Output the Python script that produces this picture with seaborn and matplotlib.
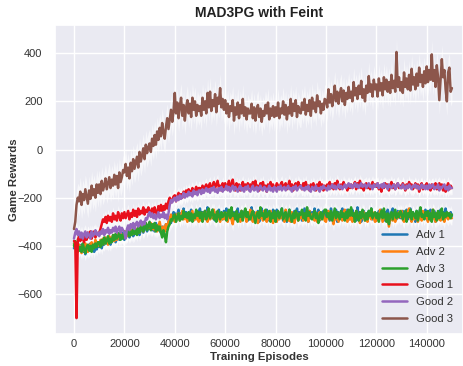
import numpy as np
import pandas as pd
import matplotlib
matplotlib.use("Agg")
import matplotlib.pyplot as plt
import seaborn as sns

step = 500  # episodes between logged rewards

adv1 = [
    -410, -390, -405, -385, -420, -400, -395, -425, -405, -435, -400, -415, -420, -390, -405, -395, -425, -400, -415, -395,
    -405, -380, -410, -385, -395, -375, -390, -365, -385, -395, -365, -380, -360, -385, -370, -350, -375, -360, -345, -370,
    -375, -350, -360, -340, -365, -345, -335, -360, -350, -330, -345, -325, -355, -335, -320, -345, -330, -315, -340, -320,
    -330, -310, -335, -315, -340, -305, -330, -320, -335, -345, -320, -350, -330, -310, -325, -300, -290, -305, -275, -260,
    -265, -295, -270, -250, -290, -265, -280, -245, -285, -260, -275, -295, -265, -250, -280, -270, -290, -255, -280, -260,
    -245, -285, -260, -275, -255, -290, -240, -275, -265, -285, -250, -280, -295, -260, -285, -250, -275, -265, -290, -255,
    -270, -245, -290, -265, -280, -250, -300, -260, -275, -285, -245, -290, -270, -255, -285, -260, -250, -280, -295, -265,
    -265, -240, -285, -260, -290, -275, -255, -300, -270, -245, -280, -265, -290, -250, -275, -295, -260, -285, -250, -270,
    -270, -250, -290, -265, -280, -245, -295, -270, -255, -300, -270, -250, -285, -265, -295, -255, -275, -245, -285, -260,
    -265, -295, -270, -245, -285, -265, -300, -255, -280, -260, -275, -245, -290, -265, -250, -295, -270, -285, -255, -275,
    -285, -255, -275, -295, -245, -280, -265, -290, -250, -300, -260, -285, -270, -245, -290, -260, -280, -250, -275, -290,
    -275, -250, -290, -265, -295, -240, -280, -260, -300, -270, -255, -285, -265, -295, -255, -275, -245, -290, -265, -280,
    -265, -290, -255, -280, -250, -275, -295, -260, -285, -250, -270, -295, -260, -245, -285, -270, -290, -255, -265, -285,
    -280, -255, -295, -265, -250, -290, -270, -245, -285, -260, -275, -300, -255, -280, -265, -245, -285, -260, -275, -250,
    -290, -260, -280, -250, -295, -270, -255, -300, -265, -285, -270, -250, -290, -260, -280, -245, -275, -265, -285, -260,
    -275,
]
adv2 = [
    -390, -410, -400, -425, -395, -415, -430, -400, -420, -390, -410, -425, -395, -415, -385, -410, -400, -375, -395, -385,
    -400, -375, -395, -370, -390, -365, -380, -395, -360, -385, -375, -355, -380, -360, -375, -350, -370, -345, -365, -355,
    -365, -340, -360, -345, -330, -355, -335, -350, -325, -345, -340, -320, -345, -330, -310, -340, -320, -305, -330, -315,
    -325, -305, -330, -310, -335, -315, -340, -320, -300, -330, -335, -320, -340, -310, -330, -300, -285, -270, -290, -280,
    -300, -270, -285, -265, -295, -275, -255, -290, -270, -285, -300, -265, -285, -270, -255, -295, -275, -290, -260, -300,
    -275, -295, -265, -290, -255, -280, -300, -270, -290, -260, -285, -250, -275, -295, -265, -285, -300, -270, -290, -265,
    -290, -265, -300, -275, -255, -290, -310, -275, -285, -260, -295, -270, -300, -255, -285, -275, -260, -300, -280, -270,
    -250, -285, -300, -270, -290, -260, -305, -275, -285, -265, -295, -255, -280, -300, -270, -290, -255, -285, -305, -275,
    -275, -300, -265, -290, -260, -285, -275, -300, -250, -280, -295, -270, -300, -260, -285, -305, -275, -265, -295, -280,
    -285, -260, -295, -275, -290, -265, -300, -255, -285, -270, -280, -295, -265, -300, -275, -260, -290, -280, -270, -295,
    -300, -275, -255, -290, -270, -285, -310, -275, -290, -265, -300, -280, -260, -295, -275, -250, -285, -300, -270, -290,
    -280, -300, -265, -285, -255, -275, -290, -305, -270, -285, -260, -295, -280, -300, -265, -275, -290, -260, -285, -300,
    -295, -270, -285, -250, -275, -300, -265, -290, -270, -285, -320, -285, -265, -295, -275, -300, -270, -285, -260, -280,
    -255, -290, -300, -270, -285, -260, -245, -285, -300, -265, -290, -275, -260, -300, -280, -270, -295, -255, -285, -275,
    -280, -300, -265, -290, -275, -250, -285, -300, -265, -290, -275, -295, -260, -285, -300, -270, -280, -290, -265, -285,
    -285,
]
adv3 = [
    -400, -380, -410, -395, -420, -405, -425, -390, -415, -430, -405, -395, -420, -400, -425, -395, -410, -390, -405, -385,
    -385, -405, -375, -395, -365, -390, -380, -360, -390, -370, -385, -355, -375, -350, -370, -360, -345, -375, -355, -370,
    -340, -365, -350, -335, -360, -340, -355, -330, -350, -335, -355, -320, -345, -330, -310, -340, -325, -305, -335, -315,
    -300, -335, -310, -325, -305, -340, -315, -335, -320, -345, -365, -335, -355, -385, -340, -320, -310, -290, -295, -275,
    -270, -300, -280, -265, -295, -275, -290, -255, -280, -265, -285, -260, -295, -265, -300, -270, -285, -250, -275, -260,
    -285, -260, -300, -270, -255, -290, -275, -245, -285, -265, -250, -290, -270, -300, -255, -275, -290, -260, -280, -270,
    -260, -295, -270, -250, -285, -240, -275, -265, -290, -255, -300, -270, -280, -255, -295, -265, -245, -280, -260, -290,
    -290, -265, -255, -280, -305, -270, -260, -285, -240, -275, -265, -290, -250, -280, -270, -255, -300, -265, -285, -255,
    -300, -270, -255, -285, -265, -245, -290, -270, -260, -295, -275, -250, -280, -300, -265, -285, -255, -270, -295, -265,
    -270, -250, -285, -265, -295, -240, -275, -260, -285, -290, -270, -255, -285, -265, -305, -280, -260, -290, -270, -250,
    -250, -280, -265, -290, -255, -295, -270, -245, -285, -260, -275, -290, -255, -280, -265, -295, -260, -285, -250, -275,
    -240, -275, -265, -300, -255, -280, -295, -260, -285, -250, -270, -295, -265, -290, -255, -275, -245, -285, -270, -260,
    -285, -265, -300, -270, -255, -285, -245, -280, -300, -265, -310, -275, -260, -290, -270, -250, -285, -265, -280, -255,
    -265, -290, -270, -255, -300, -265, -280, -250, -290, -260, -270, -285, -255, -295, -265, -240, -280, -270, -290, -260,
    -275, -255, -290, -265, -300, -250, -280, -265, -295, -255, -285, -270, -245, -290, -265, -280, -260, -275, -265, -285,
    -270,
]
good1 = [
    -380, -385, -700, -375, -360, -380, -355, -370, -385, -350, -375, -345, -365, -340, -370, -350, -340, -365, -345, -355,
    -345, -330, -310, -290, -300, -280, -305, -275, -295, -280, -300, -265, -290, -275, -295, -260, -280, -295, -265, -285,
    -260, -285, -270, -255, -290, -265, -280, -250, -275, -255, -280, -245, -270, -255, -265, -240, -270, -250, -260, -240,
    -255, -275, -245, -265, -240, -260, -270, -235, -255, -230, -255, -235, -250, -225, -245, -215, -200, -220, -210, -195,
    -190, -215, -195, -180, -205, -185, -200, -175, -195, -170, -190, -165, -185, -175, -160, -185, -170, -155, -180, -160,
    -160, -180, -150, -170, -155, -145, -170, -150, -140, -165, -155, -135, -160, -145, -130, -160, -150, -170, -140, -160,
    -140, -165, -150, -130, -160, -145, -125, -155, -170, -140, -160, -145, -170, -150, -135, -160, -145, -165, -140, -155,
    -145, -165, -135, -155, -130, -160, -150, -170, -140, -155, -135, -160, -150, -175, -145, -160, -135, -155, -145, -165,
    -160, -140, -150, -165, -145, -135, -160, -150, -140, -165, -150, -130, -160, -145, -170, -150, -140, -160, -135, -150,
    -150, -165, -140, -155, -135, -160, -150, -170, -145, -160, -140, -155, -170, -145, -160, -135, -155, -145, -170, -150,
    -165, -145, -155, -135, -160, -145, -165, -140, -155, -130, -150, -165, -145, -160, -135, -155, -150, -170, -145, -160,
    -145, -160, -150, -135, -165, -140, -155, -130, -160, -145, -170, -150, -140, -160, -145, -165, -150, -135, -155, -145,
    -155, -140, -165, -150, -175, -145, -160, -140, -155, -145, -170, -150, -135, -160, -145, -165, -150, -140, -160, -150,
    -160, -140, -150, -170, -145, -160, -135, -155, -145, -165, -155, -140, -160, -145, -175, -150, -140, -165, -150, -155,
    -140, -160, -150, -170, -145, -160, -155, -140, -165, -150, -140, -160, -145, -170, -150, -175, -155, -140, -165, -150,
    -160,
]
good2 = [
    -370, -345, -330, -355, -340, -365, -345, -370, -350, -340, -365, -345, -355, -370, -340, -360, -350, -335, -355, -345,
    -360, -340, -350, -330, -355, -335, -345, -325, -350, -335, -345, -325, -340, -320, -345, -330, -320, -345, -325, -335,
    -345, -370, -330, -315, -335, -310, -325, -305, -330, -310, -300, -320, -305, -295, -315, -300, -310, -285, -290, -270,
    -260, -280, -265, -285, -270, -290, -275, -260, -285, -270, -280, -260, -285, -270, -290, -265, -230, -210, -220, -205,
    -200, -215, -195, -210, -190, -205, -195, -180, -200, -185, -195, -175, -190, -180, -195, -170, -185, -175, -190, -170,
    -170, -185, -165, -180, -170, -160, -175, -165, -180, -160, -170, -155, -175, -165, -180, -160, -170, -155, -175, -165,
    -165, -150, -170, -155, -175, -160, -150, -170, -155, -165, -175, -160, -150, -170, -160, -175, -155, -165, -150, -170,
    -175, -160, -150, -170, -165, -155, -175, -160, -150, -165, -170, -155, -160, -175, -165, -150, -170, -160, -175, -155,
    -160, -175, -155, -165, -150, -170, -160, -155, -170, -160, -150, -165, -160, -175, -155, -165, -150, -170, -160, -155,
    -150, -165, -160, -170, -155, -165, -150, -170, -175, -155, -160, -170, -150, -165, -160, -175, -155, -165, -150, -160,
    -160, -170, -150, -165, -155, -145, -160, -150, -165, -155, -145, -160, -150, -165, -155, -145, -160, -150, -140, -155,
    -145, -160, -150, -140, -155, -145, -160, -150, -140, -155, -150, -145, -160, -150, -140, -155, -150, -165, -145, -155,
    -150, -140, -160, -150, -145, -160, -140, -155, -150, -165, -145, -155, -160, -150, -145, -165, -155, -140, -150, -160,
    -160, -145, -155, -165, -150, -160, -145, -155, -165, -150, -155, -145, -160, -150, -165, -155, -145, -160, -150, -165,
    -150, -165, -145, -160, -150, -145, -165, -155, -160, -145, -170, -155, -160, -150, -145, -165, -155, -170, -150, -160,
    -160,
]
good3 = [
    -330, -300, -230, -200, -215, -175, -230, -185, -210, -165, -195, -225, -170, -205, -150, -190, -165, -200, -145, -180,
    -145, -185, -130, -170, -150, -120, -165, -140, -115, -160, -125, -150, -105, -145, -110, -160, -95, -135, -115, -85,
    -95, -60, -110, -75, -120, -55, -90, -40, -80, -55, -30, -75, -10, -50, -25, 5, -40, 20, -15, 10,
    25, -10, 45, 15, 60, 20, 75, 40, 90, 55, 110, 70, 45, 95, 130, 85, 125, 165, 115, 160,
    235, 150, 195, 130, 180, 215, 140, 185, 120, 175, 205, 150, 190, 135, 215, 165, 200, 140, 185, 160,
    180, 140, 215, 165, 200, 150, 235, 175, 240, 160, 205, 180, 230, 155, 215, 190, 255, 175, 210, 165,
    205, 150, 190, 135, 180, 160, 205, 120, 175, 145, 195, 130, 185, 150, 210, 140, 175, 125, 170, 150,
    150, 190, 130, 175, 120, 165, 185, 135, 170, 115, 160, 140, 185, 150, 195, 125, 170, 140, 180, 135,
    175, 140, 195, 130, 170, 150, 200, 145, 185, 125, 175, 150, 210, 140, 190, 160, 205, 135, 180, 155,
    150, 195, 165, 210, 145, 185, 160, 205, 140, 215, 170, 195, 155, 225, 180, 200, 150, 190, 165, 210,
    205, 175, 250, 195, 230, 180, 215, 265, 200, 240, 190, 230, 255, 200, 245, 185, 235, 210, 260, 215,
    240, 200, 280, 225, 255, 210, 265, 230, 285, 215, 250, 200, 265, 235, 305, 240, 270, 220, 290, 250,
    270, 220, 295, 245, 275, 225, 300, 250, 290, 240, 280, 235, 310, 255, 285, 240, 405, 260, 300, 245,
    280, 235, 320, 260, 295, 250, 310, 245, 335, 270, 300, 250, 315, 265, 340, 280, 310, 260, 325, 275,
    345, 280, 330, 290, 395, 285, 330, 260, 350, 300, 205, 290, 375, 300, 330, 250, 200, 320, 340, 240,
    255,
]

labels = ["Adv 1", "Adv 2", "Adv 3", "Good 1", "Good 2", "Good 3"]
series = [adv1, adv2, adv3, good1, good2, good3]
spread = [28, 28, 28, 28, 28, 60]  # half-width of the light band
colors = ["#1f77b4", "#ff7f0e", "#2ca02c", "#e8101c", "#9467bd", "#8c564b"]

frames = []
for lab, s in zip(labels, series):
    frames.append(pd.DataFrame({"Training Episodes": [i * step for i in range(len(s))],
                                "Game Rewards": s, "Agent": lab}))
df = pd.concat(frames, ignore_index=True)

sns.set_theme(style="darkgrid")
plt.rcParams["font.family"] = ["Liberation Sans", "DejaVu Sans"]

fig = plt.figure(figsize=(4.63, 3.66), dpi=100)
ax = fig.add_axes([0.1188, 0.0874, 0.8812, 0.8443])

for lab, sp, c in zip(labels, spread, colors):
    sub = df[df["Agent"] == lab]
    x = sub["Training Episodes"].to_numpy()
    y = sub["Game Rewards"].to_numpy(dtype=float)
    ax.fill_between(x, y - sp, y + sp, color="white", alpha=0.6, lw=0)
    sns.lineplot(data=sub, x="Training Episodes", y="Game Rewards",
                 color=c, lw=1.8, ax=ax, label=lab)

ax.set_xlim(-7540, 154400)
ax.set_ylim(-766, 517)
ax.set_xticks([0, 20000, 40000, 60000, 80000, 100000, 120000, 140000])
ax.set_yticks([-600, -400, -200, 0, 200, 400])
ax.tick_params(axis="x", labelsize=8, length=0, pad=3.5, colors="#333333")
ax.tick_params(axis="y", labelsize=8, length=0, pad=9, colors="#333333")
ax.set_xlabel("Training Episodes", fontsize=8.2, fontweight="bold", color="#333333")
ax.set_ylabel("Game Rewards", fontsize=8.2, fontweight="bold", color="#333333")
ax.xaxis.set_label_coords(0.5, -0.074)
ax.xaxis.label.set_va("center")
ax.yaxis.set_label_coords(-0.1, 0.5)
ax.yaxis.label.set_va("center")
ax.set_title("MAD3PG with Feint", fontsize=10, fontweight="bold", pad=6, color="#222222")

leg = ax.legend(loc="lower right", fontsize=8.1, frameon=False, handlelength=2.2,
                labelspacing=0.6, borderaxespad=0.6, handletextpad=0.8,
                borderpad=0.3)
for t in leg.get_texts():
    t.set_color("#333333")

fig.savefig("out.png", dpi=100)
